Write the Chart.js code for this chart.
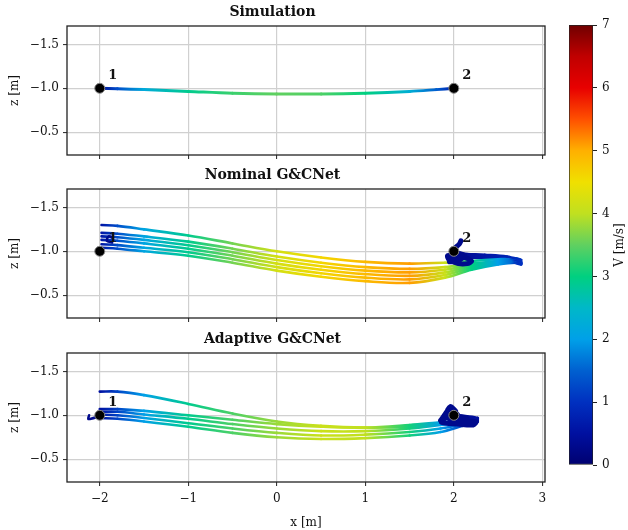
<!DOCTYPE html>
<html>
<head>
<meta charset="utf-8">
<script src="https://cdn.jsdelivr.net/npm/chart.js@4"></script>
<style>
  body { margin: 0; background: #fff; }
  #wrap { position: relative; width: 628px; height: 530px; }
  canvas { position: absolute; }
</style>
</head>
<body>
<div id="wrap">
  <canvas id="simChart" width="555" height="163" style="left:0;top:0"></canvas>
  <canvas id="nomChart" width="555" height="164" style="left:0;top:163px"></canvas>
  <canvas id="adaChart" width="555" height="203" style="left:0;top:327px"></canvas>
  <canvas id="cbar" width="73" height="530" style="left:555px;top:0"></canvas>
</div>
<script>
// ticks
const xTicks = [-2, -1, 0, 1, 2, 3];
const zTicks = [-1.5, -1.0, -0.5];
const vTicks = [0, 1, 2, 3, 4, 5, 6, 7];

// waypoints
const wpX = [-2, 2];
const wpZ = [-1, -1];
const wpLabels = ['1', '2'];

// Simulation
const simX = [-2.0, -1.8, -1.5, -1.0, -0.5, 0.0, 0.5, 1.0, 1.5, 1.8, 2.0];
const simZ = [-1.0, -0.995, -0.985, -0.965, -0.945, -0.935, -0.935, -0.945, -0.965, -0.985, -1.0];
const simV = [0.4, 1.3, 2.2, 2.9, 3.3, 3.5, 3.4, 3.0, 2.3, 1.5, 0.7];

// Nominal G&CNet
const nomX = [-1.98, -1.8, -1.5, -1.0, -0.5, 0.0, 0.5, 1.0, 1.5, 1.9, 2.2, 2.5, 2.7, 2.76, 2.6, 2.35, 2.15, 2.02];
const nomV = [0.6, 1.3, 2.1, 2.9, 3.6, 4.2, 4.6, 4.9, 5.1, 4.1, 3.0, 2.0, 1.4, 1.0, 0.8, 0.6, 0.4, 0.3];
const nomZ1 = [-1.30, -1.29, -1.25, -1.18, -1.09, -1.00, -0.93, -0.88, -0.86, -0.87, -0.89, -0.91, -0.92, -0.90, -0.94, -0.96, -0.97, -0.98];
const nomZ2 = [-1.21, -1.20, -1.17, -1.11, -1.03, -0.94, -0.87, -0.82, -0.80, -0.82, -0.86, -0.89, -0.90, -0.88, -0.93, -0.95, -0.96, -0.97];
const nomZ3 = [-1.17, -1.16, -1.13, -1.07, -0.99, -0.90, -0.83, -0.78, -0.76, -0.79, -0.84, -0.88, -0.89, -0.87, -0.92, -0.95, -0.96, -0.96];
const nomZ4 = [-1.13, -1.12, -1.09, -1.03, -0.95, -0.86, -0.79, -0.74, -0.72, -0.76, -0.83, -0.87, -0.88, -0.86, -0.91, -0.94, -0.95, -0.95];
const nomZ5 = [-1.08, -1.07, -1.04, -0.99, -0.91, -0.82, -0.75, -0.70, -0.68, -0.73, -0.81, -0.86, -0.88, -0.86, -0.90, -0.93, -0.94, -0.94];
const nomZ6 = [-1.04, -1.03, -1.00, -0.95, -0.87, -0.78, -0.71, -0.66, -0.64, -0.70, -0.79, -0.85, -0.87, -0.85, -0.89, -0.92, -0.93, -0.93];
const nomHookX = [-1.86, -1.92, -1.90, -1.85];
const nomHookZ = [-1.10, -1.12, -1.17, -1.15];
const nomHoverX = [2.02, 1.93, 1.95, 2.05, 2.15, 2.20, 2.12, 2.00, 1.95, 2.05, 2.12, 2.02, 2.00, 2.06, 2.08];
const nomHoverZ = [-0.96, -0.95, -0.90, -0.86, -0.86, -0.89, -0.93, -0.92, -0.88, -0.90, -0.95, -0.99, -1.02, -1.08, -1.12];
const nomHoverV = 0.3;

// Adaptive G&CNet
const adaX = [-2.0, -1.8, -1.5, -1.0, -0.5, 0.0, 0.5, 1.0, 1.5, 1.85, 2.1, 2.25, 2.27, 2.15, 2.02];
const adaV = [0.5, 1.2, 2.0, 2.9, 3.4, 3.8, 4.1, 4.0, 3.1, 2.0, 1.2, 0.7, 0.5, 0.4, 0.3];
const adaZ1 = [-1.27, -1.27, -1.23, -1.13, -1.02, -0.93, -0.88, -0.86, -0.87, -0.90, -0.93, -0.95, -0.97, -0.99, -1.00];
const adaZ2 = [-1.07, -1.07, -1.05, -1.00, -0.95, -0.90, -0.87, -0.86, -0.89, -0.92, -0.94, -0.95, -0.96, -0.98, -0.99];
const adaZ3 = [-1.04, -1.04, -1.01, -0.96, -0.90, -0.85, -0.82, -0.82, -0.85, -0.89, -0.92, -0.94, -0.95, -0.97, -0.98];
const adaZ4 = [-1.01, -1.00, -0.97, -0.91, -0.85, -0.80, -0.77, -0.78, -0.81, -0.85, -0.90, -0.93, -0.94, -0.96, -0.97];
const adaZ5 = [-0.97, -0.96, -0.93, -0.87, -0.80, -0.75, -0.73, -0.74, -0.77, -0.81, -0.88, -0.92, -0.93, -0.95, -0.96];
const adaHookX = [-2.0, -2.1, -2.13, -2.12];
const adaHookZ = [-0.99, -0.96, -0.96, -1.0];
const adaHoverX = [1.85, 1.95, 1.90, 2.00, 2.10, 2.25, 2.22, 2.05, 1.86, 1.92, 2.05, 2.15, 2.00, 1.92, 1.96, 2.02];
const adaHoverZ = [-0.94, -1.08, -0.98, -1.05, -0.94, -0.93, -0.89, -0.90, -0.92, -0.97, -0.92, -0.96, -1.00, -1.02, -1.10, -1.05];
const adaHoverV = 0.3;

// colour map (jet-like)
const cmapStops = [
  [0, [0, 0, 112]], [0.5, [0, 16, 160]], [1, [0, 48, 192]], [1.5, [0, 96, 208]],
  [2, [0, 160, 232]], [2.5, [0, 184, 200]], [3, [0, 208, 128]], [3.5, [96, 208, 96]],
  [4, [192, 224, 32]], [4.5, [240, 224, 0]], [5, [255, 176, 0]], [5.5, [255, 80, 0]],
  [6, [232, 0, 0]], [6.5, [192, 0, 0]], [7, [112, 0, 0]]
];

function cmap(v) {
  if (v <= cmapStops[0][0]) return rgb(cmapStops[0][1]);
  for (let i = 1; i < cmapStops.length; i++) {
    const [v1, c1] = cmapStops[i];
    if (v <= v1) {
      const [v0, c0] = cmapStops[i - 1];
      const t = (v - v0) / (v1 - v0);
      return rgb(c0.map((c, k) => c + (c1[k] - c) * t));
    }
  }
  return rgb(cmapStops[cmapStops.length - 1][1]);
}
function rgb(c) { return 'rgb(' + c.map(Math.round).join(',') + ')'; }

const serif = 'DejaVu Serif';
const ink = '#111';

function pts(xs, zs) { return xs.map((x, i) => ({ x: x, y: zs[i] })); }

function segColor(c, vs) {
  const a = c.p0, b = c.p1;
  if (!isFinite(a.x) || !isFinite(b.x)) return cmap(vs[c.p0DataIndex]);
  const g = c.chart.ctx.createLinearGradient(a.x, a.y, b.x, b.y);
  g.addColorStop(0, cmap(vs[c.p0DataIndex]));
  g.addColorStop(1, cmap(vs[c.p1DataIndex]));
  return g;
}

function trail(xs, zs, vs, w) {
  return {
    data: pts(xs, zs), borderWidth: w, pointRadius: 0, tension: 0.35,
    borderCapStyle: 'round', borderJoinStyle: 'round', order: 2,
    borderColor: cmap(vs[0]),
    segment: { borderColor: c => segColor(c, vs) }
  };
}

function scribble(xs, zs, v, w) {
  return {
    data: pts(xs, zs), borderWidth: w, pointRadius: 0, tension: 0.3,
    borderCapStyle: 'round', borderJoinStyle: 'round', order: 1,
    borderColor: cmap(v)
  };
}

function waypoints() {
  return {
    data: pts(wpX, wpZ), showLine: false, order: 0,
    pointRadius: 5, pointBackgroundColor: '#000',
    pointBorderColor: '#888', pointBorderWidth: 1
  };
}

const frame = {
  id: 'frame',
  afterDraw(chart) {
    const a = chart.chartArea, ctx = chart.ctx;
    ctx.save();
    ctx.strokeStyle = '#222';
    ctx.lineWidth = 1.3;
    ctx.strokeRect(a.left, a.top, a.right - a.left, a.bottom - a.top);
    ctx.restore();
  }
};

const wpText = {
  id: 'wpText',
  afterDatasetsDraw(chart) {
    const meta = chart.getDatasetMeta(0);
    const ctx = chart.ctx;
    ctx.save();
    ctx.font = 'bold 13px "' + serif + '"';
    ctx.fillStyle = ink;
    ctx.textAlign = 'center';
    ctx.textBaseline = 'middle';
    meta.data.forEach((p, i) => ctx.fillText(wpLabels[i], p.x + 13, p.y - 13));
    ctx.restore();
  }
};

function fmt(v) {
  return v < 0 ? '\u2212' + Math.abs(v) : String(v);
}

function panel(id, title, datasets, showX, xAxisH) {
  new Chart(document.getElementById(id), {
    type: 'line',
    data: { datasets: datasets },
    options: {
      responsive: false,
      animation: false,
      events: [],
      layout: { padding: { left: 0, right: 10, top: 0, bottom: 0 } },
      plugins: {
        legend: { display: false },
        tooltip: { enabled: false },
        title: {
          display: true, text: title, color: ink,
          font: { family: serif, size: 14, weight: 'bold' },
          padding: { top: 4, bottom: 5.2 }
        }
      },
      scales: {
        x: {
          type: 'linear', min: -2.37, max: 3.03,
          afterBuildTicks: s => { s.ticks = xTicks.map(v => ({ value: v })); },
          afterFit: s => { s.height = xAxisH; s.paddingLeft = 0; s.paddingRight = 0; },
          ticks: { display: showX, color: ink, padding: 6, font: { family: serif, size: 12 }, callback: v => fmt(v) },
          grid: { color: '#d0d0d0', lineWidth: 1.2, tickColor: '#222', tickLength: 4, tickWidth: 1 },
          border: { display: false },
          title: { display: showX, text: 'x [m]', color: ink, font: { family: serif, size: 12 }, padding: { top: 5, bottom: 0 } }
        },
        y: {
          type: 'linear', min: -1.71, max: -0.24, reverse: true,
          afterBuildTicks: s => { s.ticks = zTicks.map(v => ({ value: v })); },
          afterFit: s => { s.width = 67; s.paddingTop = 0; s.paddingBottom = 0; },
          ticks: { color: ink, padding: 4, font: { family: serif, size: 12 }, callback: v => '\u2212' + Math.abs(v).toFixed(1) },
          grid: { color: '#d0d0d0', lineWidth: 1.2, tickColor: '#222', tickLength: 4, tickWidth: 1 },
          border: { display: false },
          title: { display: true, text: 'z [m]', color: ink, font: { family: serif, size: 12 }, padding: { top: 8, bottom: 0 } }
        }
      }
    },
    plugins: [frame, wpText]
  });
}

panel('simChart', 'Simulation', [
  waypoints(),
  trail(simX, simZ, simV, 3)
], false, 8);

panel('nomChart', 'Nominal G&CNet', [
  waypoints(),
  scribble(nomHoverX, nomHoverZ, nomHoverV, 5),
  scribble(nomHookX, nomHookZ, nomHoverV, 2.5),
  trail(nomX, nomZ1, nomV, 2.6),
  trail(nomX, nomZ2, nomV, 2.6),
  trail(nomX, nomZ3, nomV, 2.6),
  trail(nomX, nomZ4, nomV, 2.6),
  trail(nomX, nomZ5, nomV, 2.6),
  trail(nomX, nomZ6, nomV, 2.6)
], false, 9);

panel('adaChart', 'Adaptive G&CNet', [
  waypoints(),
  scribble(adaHoverX, adaHoverZ, adaHoverV, 5),
  scribble(adaHookX, adaHookZ, adaHoverV, 2.5),
  trail(adaX, adaZ1, adaV, 2.6),
  trail(adaX, adaZ2, adaV, 2.6),
  trail(adaX, adaZ3, adaV, 2.6),
  trail(adaX, adaZ4, adaV, 2.6),
  trail(adaX, adaZ5, adaV, 2.6)
], true, 48);

// colour bar
const cbTitle = {
  id: 'cbTitle',
  afterDraw(chart) {
    const ctx = chart.ctx;
    const a = chart.chartArea;
    ctx.save();
    ctx.translate(chart.width - 8, (a.top + a.bottom) / 2);
    ctx.rotate(-Math.PI / 2);
    ctx.font = '12px "' + serif + '"';
    ctx.fillStyle = ink;
    ctx.textAlign = 'center';
    ctx.textBaseline = 'middle';
    ctx.fillText('V [m/s]', 0, 0);
    ctx.restore();
  }
};

function cbFill(c) {
  const chart = c.chart;
  if (!chart.chartArea) return cmap(0);
  const s = chart.scales.y;
  const g = chart.ctx.createLinearGradient(0, s.getPixelForValue(vTicks[0]), 0, s.getPixelForValue(vTicks[vTicks.length - 1]));
  const span = vTicks[vTicks.length - 1] - vTicks[0];
  cmapStops.forEach(([v, col]) => g.addColorStop((v - vTicks[0]) / span, rgb(col)));
  return g;
}

new Chart(document.getElementById('cbar'), {
  type: 'bar',
  data: {
    labels: ['V'],
    datasets: [{
      data: [[vTicks[0], vTicks[vTicks.length - 1]]],
      backgroundColor: cbFill, borderColor: '#222', borderWidth: 1, borderSkipped: false,
      barPercentage: 1, categoryPercentage: 1
    }]
  },
  options: {
    responsive: false,
    animation: false,
    events: [],
    layout: { padding: { left: 14, top: 25, bottom: 65, right: 0 } },
    plugins: { legend: { display: false }, tooltip: { enabled: false } },
    scales: {
      x: { display: false },
      y: {
        position: 'right', min: 0, max: 7,
        afterBuildTicks: s => { s.ticks = vTicks.map(v => ({ value: v })); },
        afterFit: s => { s.width = 35; s.paddingTop = 0; s.paddingBottom = 0; },
        ticks: { color: ink, padding: 5, font: { family: serif, size: 12 } },
        grid: { drawOnChartArea: false, tickColor: '#222', tickLength: 4 },
        border: { display: false }
      }
    }
  },
  plugins: [cbTitle]
});
</script>
</body>
</html>
